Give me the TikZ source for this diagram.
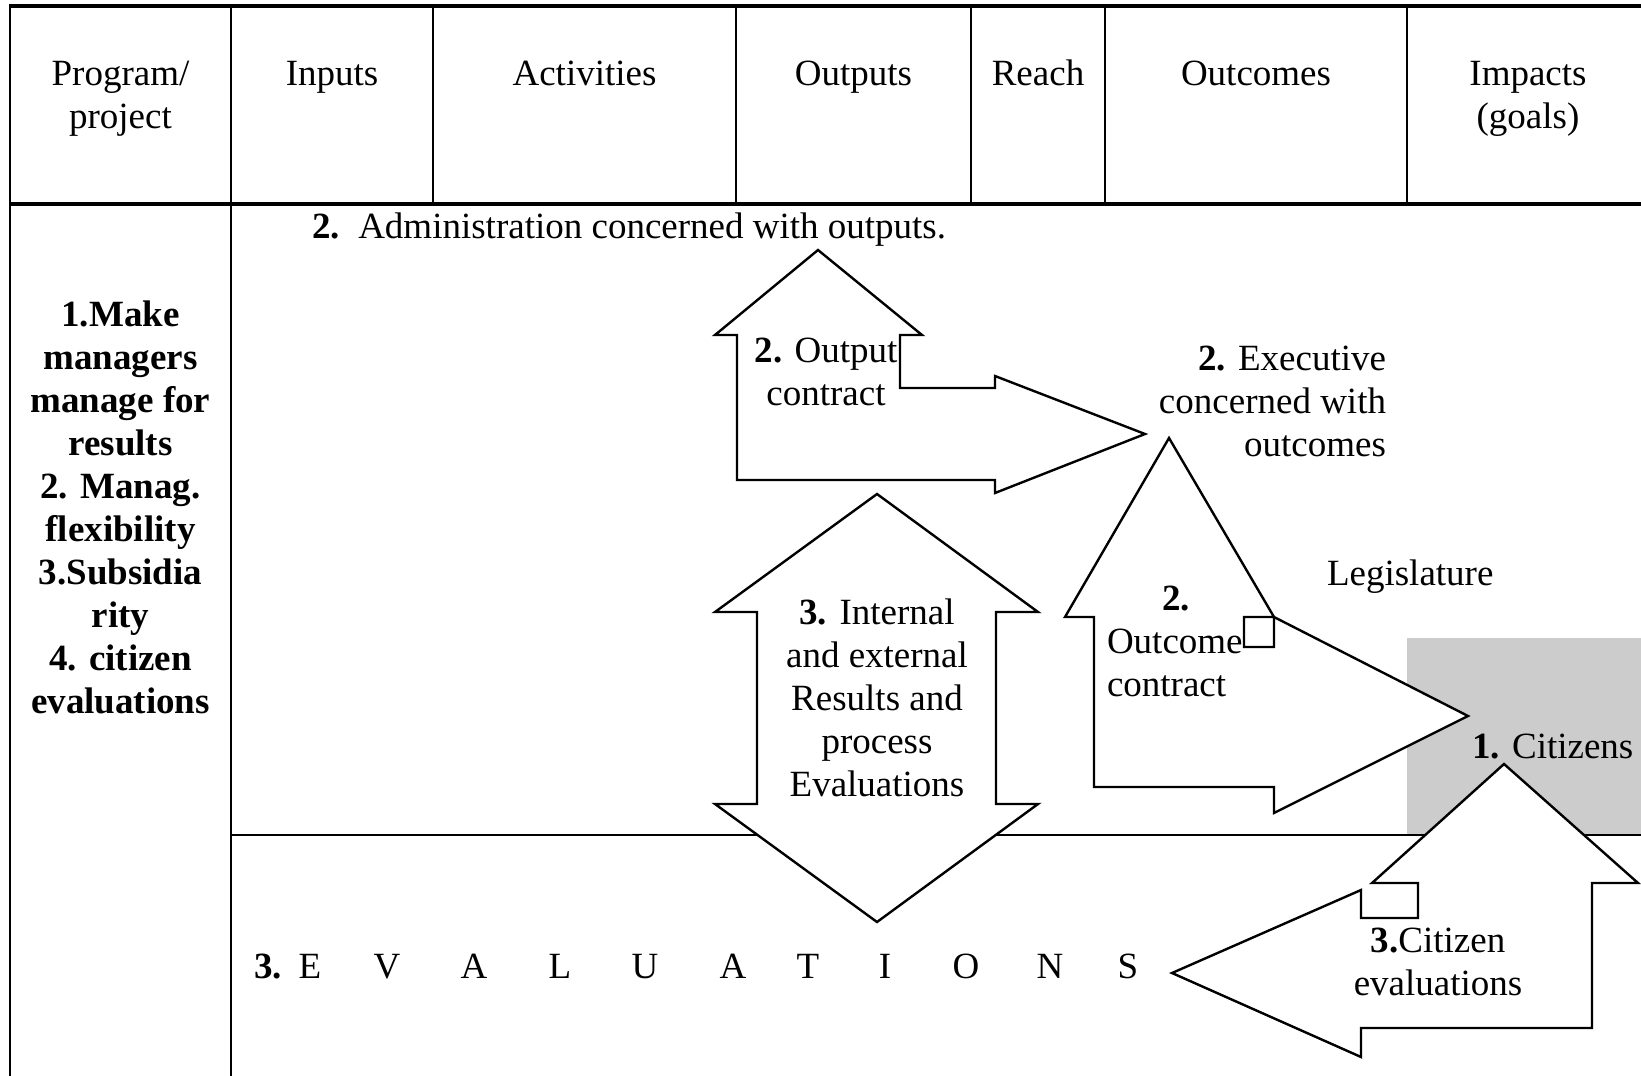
\documentclass[tikz,border=0pt]{standalone}
\usepackage{fontspec}
\setmainfont{Liberation Serif}
\definecolor{citizengray}{RGB}{204,204,204}
\newcommand\linesc[1]{\begin{tabular}[t]{@{}c@{}}#1\end{tabular}}
\newcommand\linesl[1]{\begin{tabular}[t]{@{}l@{}}#1\end{tabular}}
\newcommand\linesr[1]{\begin{tabular}[t]{@{}r@{}}#1\end{tabular}}
\begin{document}
\begin{tikzpicture}[x=1pt,y=-1pt,
  rule/.style={line width=2.4pt},
  heavyrule/.style={line width=3.2pt},
  blockarrow/.style={draw=black, fill=white, line width=2.4pt, line join=miter},
  lbl/.style={inner sep=0pt, outer sep=0pt, anchor=base, font=\fontsize{37}{43}\selectfont},
  boldlbl/.style={lbl, font=\fontsize{37}{43}\selectfont\bfseries},
]
\useasboundingbox (0,0) rectangle (1641,1076);

% shaded citizens cell
\fill[citizengray] (1407,638) rectangle (1641,835);

% table frame
\draw[heavyrule] (8.5,6) -- (1641,6);
\draw[heavyrule] (10,204) -- (1641,204);
\draw[rule] (10,6) -- (10,1076);
\draw[rule] (231,6) -- (231,1076);
\foreach \cx in {433,736,971,1105,1407} \draw[rule] (\cx,6) -- (\cx,204);
\draw[rule] (231,835) -- (1641,835);

% header cells
\node[lbl] (hprog) at (120.5,85) {\linesc{Program/\\project}};
\node[lbl] (hin)   at (332,85)   {Inputs};
\node[lbl] (hact)  at (584.5,85) {Activities};
\node[lbl] (hout)  at (853.5,85) {Outputs};
\node[lbl] (hreach) at (1038,85) {Reach};
\node[lbl] (hoc)   at (1256,85)  {Outcomes};
\node[lbl] (himp)  at (1528,85)  {\linesc{Impacts\\(goals)}};

% principles column
\node[boldlbl] (principles) at (120.5,326) {\linesc{1.Make\\managers\\manage for\\results\\2. Manag.\\flexibility\\3.Subsidia\\rity\\4. citizen\\evaluations}};

% block arrows
\draw[blockarrow] (818,250) -- (922,335) -- (900,335) -- (900,388) -- (995,388) -- (995,376)
  -- (1145,434) -- (995,493) -- (995,480) -- (737,480) -- (737,335) -- (715,335) -- cycle;
\draw[blockarrow] (877,494) -- (1038,612) -- (996,612) -- (996,804) -- (1038,804) -- (877,922)
  -- (715,804) -- (757,804) -- (757,612) -- (715,612) -- cycle;
\draw[blockarrow] (1169,438) -- (1274,617) -- (1244,617) -- (1244,647) -- (1274,647) -- (1274,617)
  -- (1468,716) -- (1274,813) -- (1274,787) -- (1094,787) -- (1094,617) -- (1065,617) -- cycle;
\draw[blockarrow] (1504,764) -- (1638,883) -- (1592,883) -- (1592,1028) -- (1361,1028) -- (1361,1057)
  -- (1172,973) -- (1361,890) -- (1361,918) -- (1418,918) -- (1418,883) -- (1372,883) -- cycle;

% labels
\node[lbl, anchor=base west] (admin) at (312,238) {\textbf{2.}\hspace{0.5em}Administration concerned with outputs.};
\node[lbl] (outcontract) at (826,362) {\linesc{\textbf{2.} Output\\contract}};
\node[lbl, anchor=base east] (exec) at (1386,370) {\linesr{\textbf{2.} Executive\\concerned with\\outcomes}};
\node[lbl, anchor=base west] (legis) at (1327,585) {Legislature};
\node[lbl, anchor=base west] (occontract) at (1107,610) {\linesl{\hspace*{55pt}\textbf{2.}\\Outcome\\contract}};
\node[lbl] (internal) at (877,624) {\linesc{\textbf{3.} Internal\\and external\\Results and\\process\\Evaluations}};
\node[lbl, anchor=base west] (citizens) at (1472,758) {\textbf{1.} Citizens};
\node[lbl] (citeval) at (1438,952) {\linesc{\textbf{3.}Citizen\\evaluations}};

% spaced-out evaluations banner
\node[boldlbl, anchor=base west] (evnum) at (254,978) {3.};
\foreach \ch/\cx [count=\i] in {E/310,V/387,A/474,L/560,U/645,A/733,T/808,I/885,O/966,N/1050,S/1128}
  \node[lbl] (ev\i) at (\cx,978) {\ch};
\end{tikzpicture}
\end{document}
